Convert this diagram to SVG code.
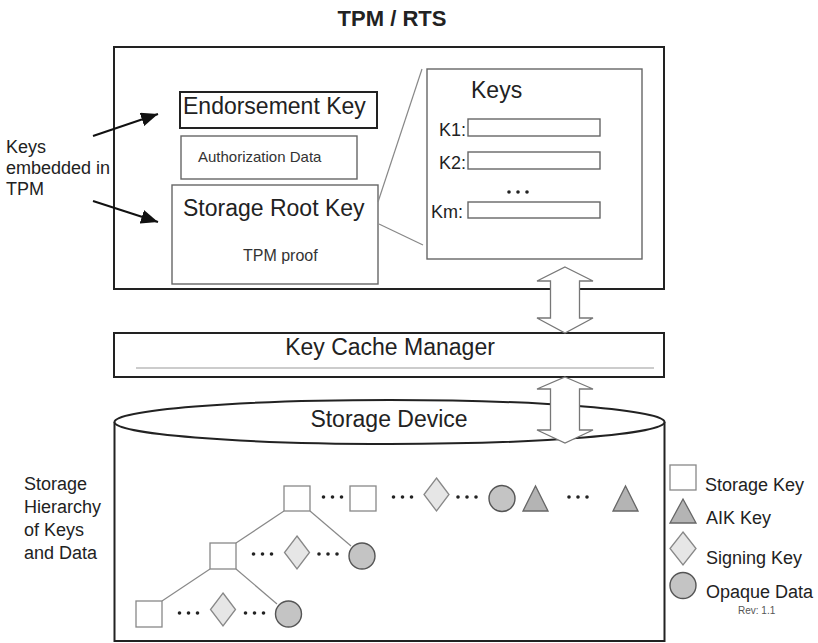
<svg xmlns="http://www.w3.org/2000/svg" width="818" height="643" viewBox="0 0 818 643">
<style>
text{font-family:"Liberation Sans",Arial,sans-serif;fill:#222}
.big{font-size:23px}
.med{font-size:18px}
.sm{font-size:15px}
.box{fill:#fff;stroke:#222;stroke-width:2}
.box2{fill:#fff;stroke:#666;stroke-width:1.4}
.thin{fill:none;stroke:#888;stroke-width:1.2}
.sq{fill:#fff;stroke:#888;stroke-width:1.3}
.dia{fill:#e6e6e6;stroke:#888;stroke-width:1.3}
.cir{fill:#c4c4c4;stroke:#555;stroke-width:1.4}
.tri{fill:#b4b4b4;stroke:#666;stroke-width:1.3}
.dot{fill:#222}
.dbl{fill:#fff;stroke:#777;stroke-width:1.3}
</style>
<defs>
<marker id="ah" markerUnits="userSpaceOnUse" markerWidth="18" markerHeight="14" refX="17" refY="7" orient="auto">
<path d="M0,0 L17,7 L0,14 Z" fill="#111"/>
</marker>
<g id="dots"><circle cx="-9" cy="0" r="1.8"/><circle cx="0" cy="0" r="1.8"/><circle cx="9" cy="0" r="1.8"/></g>
</defs>
<rect width="818" height="643" fill="#fff"/>

<text x="392" y="26" text-anchor="middle" style="font-size:22px;font-weight:bold">TPM / RTS</text>

<g id="tpm">
<rect class="box" x="114" y="47" width="550" height="242"/>
</g>

<g id="endorsement-key">
<rect class="box" x="180" y="92" width="197" height="36"/>
<text class="big" x="183" y="114">Endorsement Key</text>
</g>
<g id="authorization-data">
<rect class="box2" x="181" y="136" width="176" height="43"/>
<text class="sm" x="198" y="162" style="fill:#333">Authorization Data</text>
</g>
<g id="storage-root-key">
<rect class="box2" x="172" y="185" width="206" height="99"/>
<text class="big" x="183" y="216">Storage Root Key</text>
<text x="243" y="261" style="font-size:16px;fill:#333">TPM proof</text>
</g>
<g id="keys">
<rect class="box2" x="427" y="69" width="215" height="190"/>
<text class="big" x="471" y="98">Keys</text>
<text class="med" x="466" y="136" text-anchor="end">K1:</text>
<rect class="box2" x="468" y="119" width="132" height="17"/>
<text class="med" x="466" y="169" text-anchor="end">K2:</text>
<rect class="box2" x="468" y="152" width="132" height="17"/>
<g class="dot"><use href="#dots" x="518" y="192"/></g>
<text class="med" x="463" y="218" text-anchor="end">Km:</text>
<rect class="box2" x="468" y="202" width="132" height="16"/>
</g>

<g id="key-cache-manager">
<rect class="box" x="114" y="333" width="550" height="44"/>
<line x1="136" y1="368" x2="654" y2="368" stroke="#999" stroke-width="1"/>
<text class="big" x="390" y="355" text-anchor="middle">Key Cache Manager</text>
</g>

<g id="storage-device">
<path d="M114.5,422 V641 H664.5 V422" fill="#fff" stroke="#222" stroke-width="2"/>
<ellipse cx="389.5" cy="422" rx="275" ry="22" fill="#fff" stroke="#222" stroke-width="2"/>
<text class="big" x="389" y="427" text-anchor="middle">Storage Device</text>
</g>

<g id="labels">
<text class="med"><tspan x="6" y="153">Keys</tspan><tspan x="6" y="174">embedded in</tspan><tspan x="6" y="195">TPM</tspan></text>
<text class="med"><tspan x="24" y="490">Storage</tspan><tspan x="24" y="513">Hierarchy</tspan><tspan x="24" y="536">of Keys</tspan><tspan x="24" y="559">and Data</tspan></text>
</g>

<g id="connectors">
<line x1="93" y1="136" x2="158" y2="114" stroke="#111" stroke-width="2" marker-end="url(#ah)"/>
<line x1="93" y1="201" x2="158" y2="222" stroke="#111" stroke-width="2" marker-end="url(#ah)"/>
<line class="thin" x1="378" y1="202" x2="422" y2="69"/>
<line class="thin" x1="379" y1="224" x2="423" y2="245"/>
<path class="dbl" d="M565,267 L593,281 L579.5,281 L579.5,318 L593,318 L565,333 L537,318 L550.5,318 L550.5,281 L537,281 Z"/>
<path class="dbl" d="M565,377 L593,389 L579.5,389 L579.5,430 L593,430 L565,443 L537,430 L550.5,430 L550.5,389 L537,389 Z"/>
<line class="thin" x1="284" y1="511" x2="236" y2="543"/>
<line class="thin" x1="310" y1="511" x2="351" y2="546"/>
<line class="thin" x1="210" y1="569" x2="162" y2="601"/>
<line class="thin" x1="236" y1="569" x2="277" y2="604"/>
</g>

<g id="hierarchy">
<rect class="sq" x="284" y="486" width="26" height="25"/>
<rect class="sq" x="350" y="486" width="26" height="25"/>
<polygon class="dia" points="436.5,478 449,494.5 436.5,511 424,494.5"/>
<circle class="cir" cx="502" cy="498.5" r="13"/>
<polygon class="tri" points="523,511 548,511 535.5,486"/>
<polygon class="tri" points="613,511 638,511 625.5,486"/>
<rect class="sq" x="210" y="543" width="26" height="26"/>
<polygon class="dia" points="297,536 309.5,552.5 297,569 284.5,552.5"/>
<circle class="cir" cx="362" cy="556" r="13"/>
<rect class="sq" x="136" y="601" width="26" height="26"/>
<polygon class="dia" points="223,593 235.5,609.5 223,626 210.5,609.5"/>
<circle class="cir" cx="288.5" cy="614" r="13"/>
<g class="dot">
<use href="#dots" x="332.5" y="497"/>
<use href="#dots" x="402.5" y="497"/>
<use href="#dots" x="467" y="497"/>
<use href="#dots" x="578" y="497"/>
<use href="#dots" x="262.5" y="554"/>
<use href="#dots" x="328" y="554"/>
<use href="#dots" x="188.5" y="613"/>
<use href="#dots" x="254.5" y="613"/>
</g>
</g>

<g id="legend">
<rect class="sq" x="670" y="465" width="26" height="25"/>
<text class="med" x="705" y="491">Storage Key</text>
<polygon class="tri" points="670,523 696,523 683,499"/>
<text class="med" x="706" y="524">AIK Key</text>
<polygon class="dia" points="683,532 696,548.5 683,565 670,548.5"/>
<text class="med" x="706" y="564">Signing Key</text>
<circle class="cir" cx="683" cy="585.5" r="13"/>
<text class="med" x="706" y="598">Opaque Data</text>
<text x="738" y="614" style="font-size:10px;fill:#555">Rev: 1.1</text>
</g>
</svg>
